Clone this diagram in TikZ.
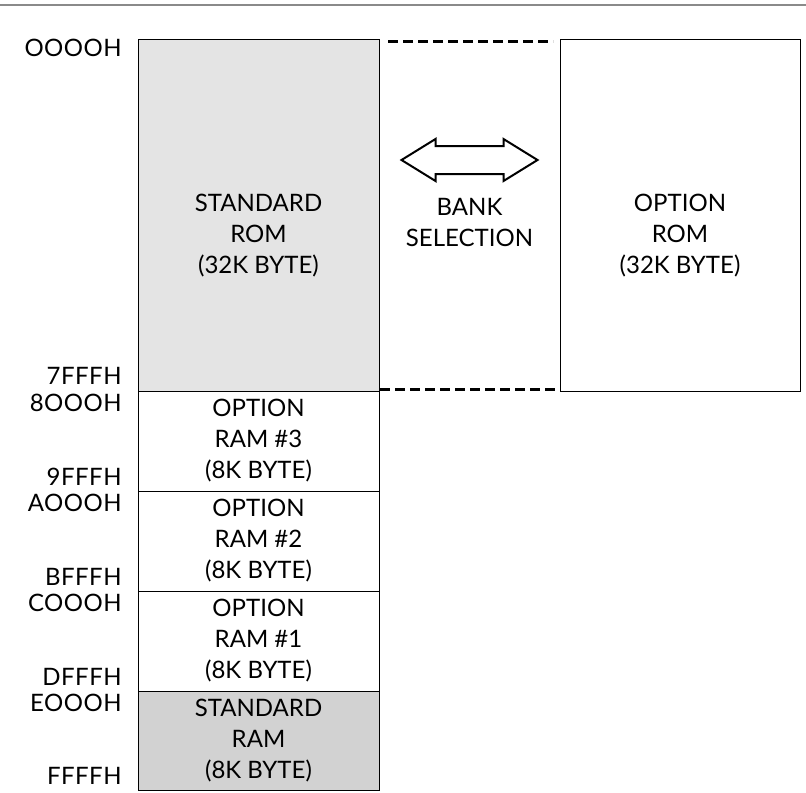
\documentclass[tikz,border=0pt]{standalone}
\usepackage{fontspec}
\setmainfont{Lato}
\newfontfamily\addrface{Lato}[LetterSpace=2]
\usetikzlibrary{positioning, calc}
\definecolor{romgray}{HTML}{E4E4E4}
\definecolor{ramgray}{HTML}{D2D2D2}
\definecolor{ruleA}{HTML}{8A8A8A}
\newcommand{\memfont}{\fontsize{12}{15.5}\selectfont}
\tikzset{
  memblock/.style={
    draw=black, line width=0.5pt, minimum width=120.5pt,
    outer sep=0pt, inner sep=0pt, align=center, font=\memfont
  },
  memtext/.style={align=center, inner sep=0pt, font=\memfont},
  addr/.style={inner sep=0pt, font=\memfont\addrface},
  bankline/.style={line width=1.5pt, dash pattern=on 5pt off 2.5pt},
  bankarrow/.style={draw=black, fill=white, line width=1pt, line join=miter},
  toprule/.style={draw=ruleA, line width=0.6pt}
}

\begin{document}
\begin{tikzpicture}[x=0.5pt, y=-0.5pt]
  \useasboundingbox (0,0) rectangle (806,792);
  \draw[toprule] (0,5) -- (806,5);

  % memory map column
  \node[memblock, fill=romgray, minimum height=175.5pt, anchor=north west] (stdrom) at (138,40) {};
  \node[memtext] (stdromtext) at ([yshift=-10pt]stdrom.center)
    {STANDARD\\ROM\\(32K BYTE)};
  \node[memblock, minimum height=50pt, below=0pt of stdrom] (ram3)
    {OPTION\\RAM \#3\\(8K BYTE)};
  \node[memblock, minimum height=50pt, below=0pt of ram3] (ram2)
    {OPTION\\RAM \#2\\(8K BYTE)};
  \node[memblock, minimum height=50pt, below=0pt of ram2] (ram1)
    {OPTION\\RAM \#1\\(8K BYTE)};
  \node[memblock, fill=ramgray, minimum height=49.5pt, below=0pt of ram1] (stdram)
    {STANDARD\\RAM\\(8K BYTE)};

  % banked ROM
  \node[memblock, minimum width=120pt, minimum height=175.5pt, anchor=north west] (optrom) at (560,40) {};
  \node[memtext] (optromtext) at ([yshift=-10pt]optrom.center)
    {OPTION\\ROM\\(32K BYTE)};

  % addresses
  \node[addr, left=8pt of stdrom.north west, yshift=-4pt] (a0000) {OOOOH};
  \node[addr, left=8pt of stdrom.south west, yshift=7.5pt] (a7fff) {7FFFH};
  \node[addr, left=8pt of ram3.north west, yshift=-6pt] (a8000) {8OOOH};
  \node[addr, left=8pt of ram3.south west, yshift=7pt] (a9fff) {9FFFH};
  \node[addr, left=8pt of ram2.north west, yshift=-6pt] (aa000) {AOOOH};
  \node[addr, left=8pt of ram2.south west, yshift=7pt] (abfff) {BFFFH};
  \node[addr, left=8pt of ram1.north west, yshift=-6pt] (ac000) {COOOH};
  \node[addr, left=8pt of ram1.south west, yshift=7pt] (adfff) {DFFFH};
  \node[addr, left=8pt of stdram.north west, yshift=-6pt] (ae000) {EOOOH};
  \node[addr, left=8pt of stdram.south west, yshift=7pt] (affff) {FFFFH};

  % bank selection
  \coordinate (bankmid) at ($(stdrom.north east)!0.5!(optrom.north west) + (0,120)$);
  \draw[bankarrow] ($(bankmid)+(-68,0)$) -- ++(34,-21) -- ++(0,7) -- ++(68,0)
    -- ++(0,-7) -- ++(34,21) -- ++(-34,21) -- ++(0,-7) -- ++(-68,0) -- ++(0,7) -- cycle;
  \node[memtext] (banktext) at ($(bankmid)+(0,62.5)$) {BANK\\SELECTION};

  \draw[bankline] ([xshift=4.5pt,yshift=-1pt]stdrom.north east) -- ([xshift=-3.5pt,yshift=-1pt]optrom.north west);
  \draw[bankline] ([xshift=0.5pt,yshift=0.75pt]stdrom.south east) -- ([xshift=-1pt,yshift=0.75pt]optrom.south west);
\end{tikzpicture}
\end{document}
